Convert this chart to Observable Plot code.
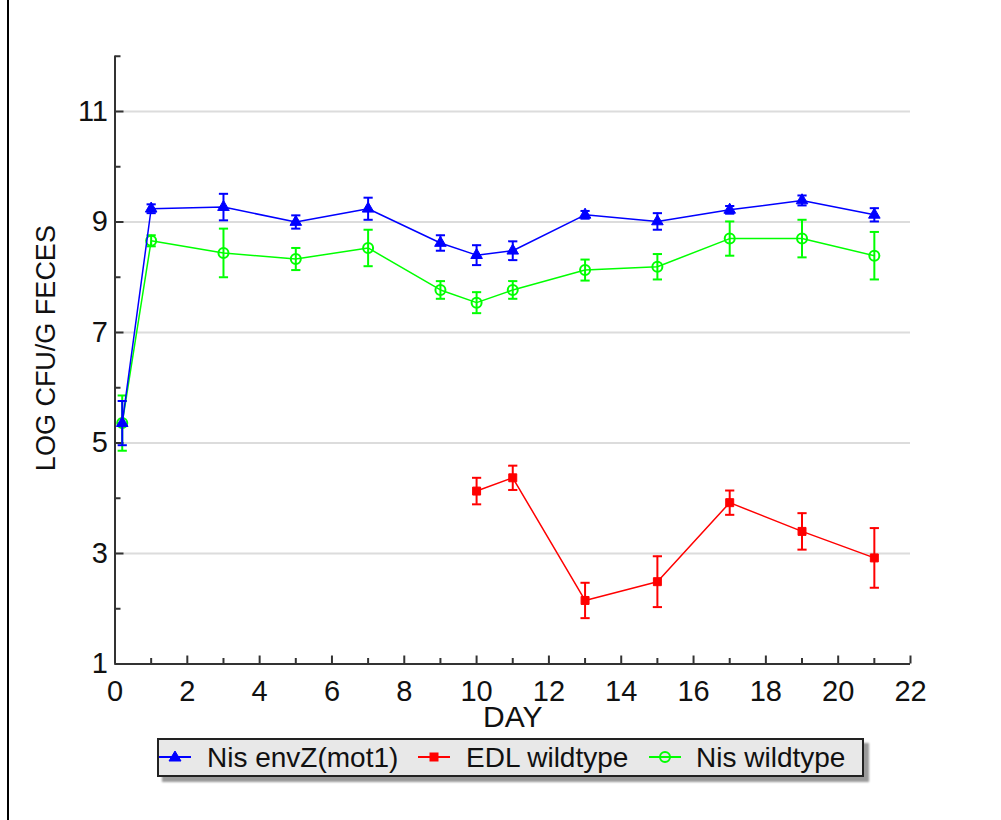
<!DOCTYPE html>
<html>
<head>
<meta charset="utf-8">
<script src="https://cdn.jsdelivr.net/npm/d3@7"></script>
<script src="https://cdn.jsdelivr.net/npm/@observablehq/plot@0.6"></script>
<style>
  body { margin: 0; background: #fff; font-family: "Liberation Sans", Arial, sans-serif; }
  #wrap { position: relative; width: 1001px; height: 820px; overflow: hidden; }
  #leftline { position: absolute; left: 7px; top: 0; width: 2px; height: 820px; background: #000; }
  #chart { position: absolute; left: 0; top: 0; }
  #legend { position: absolute; left: 157px; top: 738px; width: 703px; height: 35px;
            background: #e8e8e8; border: 2px solid #222; box-shadow: 5px 5px 2px #9a9a9a; }
  .item { position: absolute; top: 0; height: 35px; line-height: 35px; font-size: 28px; color: #111; white-space: nowrap; }
  .sym { position: absolute; top: 7px; }
</style>
</head>
<body>
<div id="wrap">
  <div id="leftline"></div>
  <div id="chart"></div>
  <div id="legend"></div>
</div>
<script>
// ---- data ----
const days = [0.2, 1, 3, 5, 7, 9, 10, 11, 13, 15, 17, 19, 21];
const envZMean = [5.36, 9.24, 9.27, 9.0, 9.24, 8.62, 8.4, 8.48, 9.13, 9.01, 9.22, 9.39, 9.13];
const envZErr  = [0.4, 0.08, 0.24, 0.12, 0.2, 0.14, 0.18, 0.17, 0.07, 0.15, 0.07, 0.09, 0.12];
const nisMean  = [5.36, 8.66, 8.44, 8.33, 8.53, 7.77, 7.54, 7.77, 8.13, 8.19, 8.7, 8.7, 8.39];
const nisErr   = [0.5, 0.1, 0.44, 0.2, 0.33, 0.16, 0.19, 0.16, 0.19, 0.23, 0.31, 0.34, 0.43];
const edlDays  = [10, 11, 13, 15, 17, 19, 21];
const edlMean  = [4.13, 4.37, 2.15, 2.49, 3.92, 3.4, 2.92];
const edlErr   = [0.24, 0.22, 0.32, 0.46, 0.22, 0.33, 0.54];
const seriesNames = ["Nis envZ(mot1)", "EDL wildtype", "Nis wildtype"];
const seriesColors = ["#0000ff", "#ff0000", "#00ff00"];
const xTickLabels = [0, 2, 4, 6, 8, 10, 12, 14, 16, 18, 20, 22];
const xMinorTicks = [1, 3, 5, 7, 9, 11, 13, 15, 17, 19, 21];
const yTickLabels = [1, 3, 5, 7, 9, 11];
const yMinorTicks = [2, 4, 6, 8, 10, 12];
const xTitle = "DAY";
const yTitle = "LOG CFU/G FECES";

const mk = (xs, ms, es, s) => xs.map((d, i) => ({day: d, v: ms[i], lo: ms[i] - es[i], hi: ms[i] + es[i], s}));
const envZ = mk(days, envZMean, envZErr, seriesNames[0]);
const edl  = mk(edlDays, edlMean, edlErr, seriesNames[1]);
const nis  = mk(days, nisMean, nisErr, seriesNames[2]);

const W = 1001, H = 745, mL = 114.5, mR = 91, mT = 55.75, mB = 81.5;
const plotW = W - mL - mR, plotH = H - mT - mB;
const axisColor = "#333";

const capSymbol = { draw(ctx, size) { const w = Math.sqrt(size / Math.PI); ctx.moveTo(-w, 0); ctx.lineTo(w, 0); } };

function seriesMarks(data, color, symbol, r, filled, sw) {
  return [
    Plot.line(data, {x: "day", y: "v", stroke: color, strokeWidth: 1.5}),
    Plot.ruleX(data, {x: "day", y1: "lo", y2: "hi", stroke: color, strokeWidth: 2}),
    Plot.dot(data, {x: "day", y: "hi", symbol: capSymbol, r: 4.6, stroke: color, strokeWidth: 2}),
    Plot.dot(data, {x: "day", y: "lo", symbol: capSymbol, r: 4.6, stroke: color, strokeWidth: 2}),
    Plot.dot(data, {x: "day", y: "v", symbol, r, fill: filled ? color : "none", stroke: color, strokeWidth: sw})
  ];
}

const chart = Plot.plot({
  width: W, height: H,
  marginLeft: mL, marginRight: mR, marginTop: mT, marginBottom: mB,
  style: {fontFamily: "'Liberation Sans', Arial, sans-serif", fontSize: "29px", background: "transparent", color: "#111"},
  x: {domain: [0, 22]},
  y: {domain: [1, 12]},
  marks: [
    Plot.gridY(yTickLabels.slice(1), {stroke: "#dcdcdc", strokeOpacity: 1, strokeWidth: 2}),
    Plot.axisX(xTickLabels, {tickSize: 0, tickPadding: 16, fontSize: 29, tickFormat: d3.format("d"), label: null}),
    Plot.axisY(yTickLabels, {tickSize: 0, tickPadding: 7, fontSize: 29, tickFormat: d3.format("d"), label: null}),
    Plot.tickX(xTickLabels, {x: d => d, insetTop: plotH - 8, stroke: axisColor, strokeWidth: 2}),
    Plot.tickX(xMinorTicks, {x: d => d, insetTop: plotH - 5.5, stroke: axisColor, strokeWidth: 2}),
    Plot.tickY(yTickLabels, {y: d => d, insetRight: plotW - 9, stroke: axisColor, strokeWidth: 2}),
    Plot.tickY(yMinorTicks, {y: d => d, insetRight: plotW - 6, stroke: axisColor, strokeWidth: 2}),
    Plot.ruleX([0], {stroke: axisColor, strokeWidth: 2}),
    Plot.ruleY([1], {stroke: axisColor, strokeWidth: 2}),
    ...seriesMarks(edl, seriesColors[1], "square", 4.5, true, 1),
    ...seriesMarks(nis, seriesColors[2], "circle", 5, false, 2),
    ...seriesMarks(envZ, seriesColors[0], "triangle", 4.3, true, 1),
    Plot.text([xTitle], {frameAnchor: "bottom", dy: 53, fontSize: 30, lineAnchor: "middle", textAnchor: "middle", fill: "#111"}),
    Plot.text([yTitle], {frameAnchor: "left", dx: -68.5, dy: -12, rotate: -90, fontSize: 27, lineAnchor: "middle", textAnchor: "middle", fill: "#111"})
  ]
});
document.getElementById("chart").appendChild(chart);

// ---- legend ----
const legend = document.getElementById("legend");
const symShapes = [
  '<polygon points="16,4 22,14 10,14" fill="COL" stroke="COL"/>',
  '<rect x="11.5" y="5.5" width="9" height="9" fill="COL"/>',
  '<circle cx="16" cy="10" r="5" fill="none" stroke="COL" stroke-width="2"/>'
];
const symLeft = [0, 259, 490];
const textLeft = [48, 307, 537];
seriesNames.forEach((name, i) => {
  const s = document.createElement("div");
  s.className = "sym";
  s.style.left = symLeft[i] + "px";
  s.innerHTML = `<svg width="32" height="20"><line x1="0" y1="10" x2="32" y2="10" stroke="${seriesColors[i]}" stroke-width="2"/>${symShapes[i].replace(/COL/g, seriesColors[i])}</svg>`;
  legend.appendChild(s);
  const t = document.createElement("div");
  t.className = "item";
  t.style.left = textLeft[i] + "px";
  t.textContent = name;
  legend.appendChild(t);
});
</script>
</body>
</html>
